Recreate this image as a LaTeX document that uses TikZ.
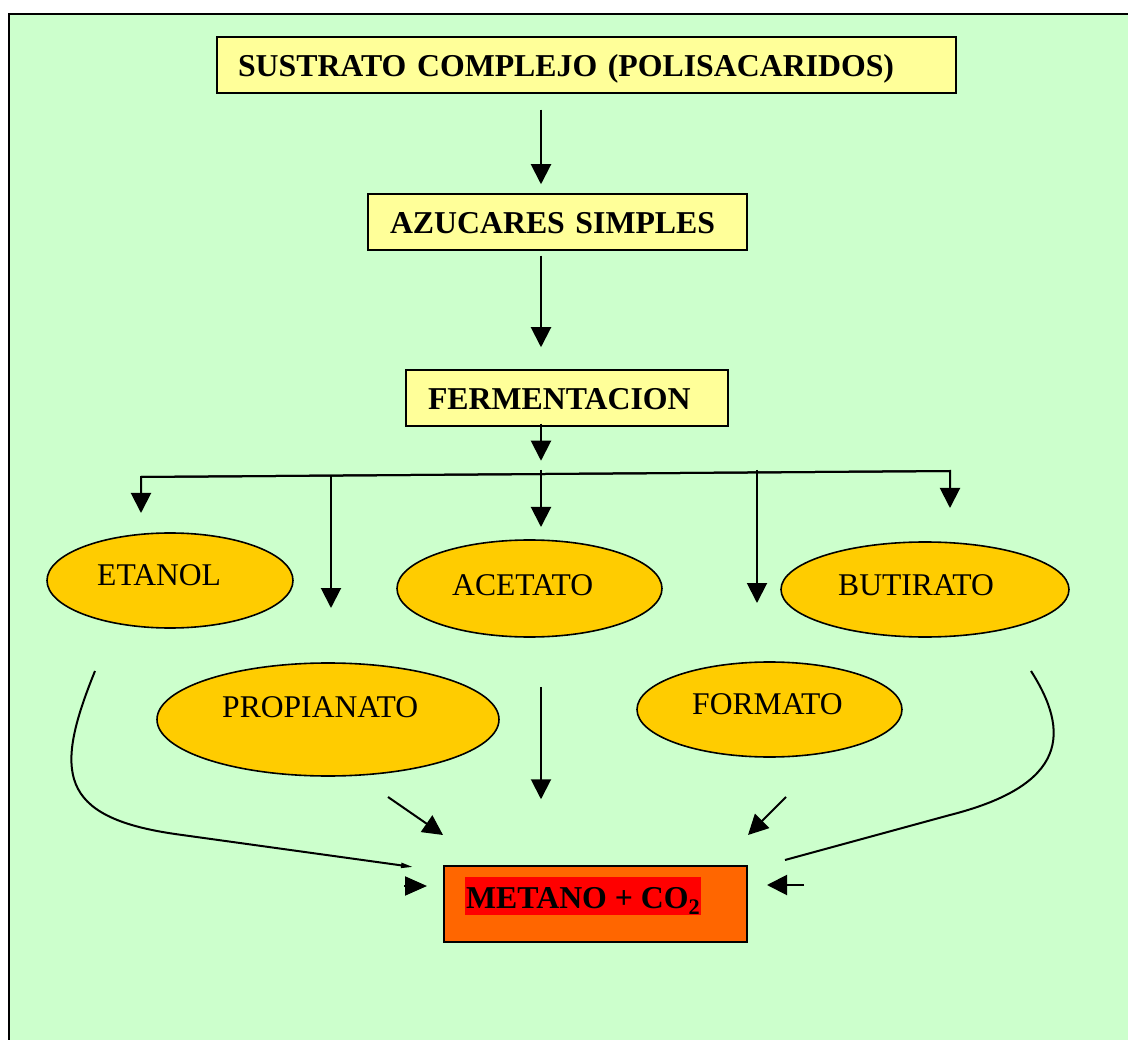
\documentclass[tikz,border=0pt]{standalone}
\usepackage{fontspec}
\setmainfont{Liberation Serif}
\usetikzlibrary{arrows.meta,shapes.geometric,calc}
\definecolor{bg}{HTML}{CCFFCC}
\definecolor{boxyellow}{HTML}{FFFF99}
\definecolor{ovalorange}{HTML}{FFCC00}
\definecolor{metorange}{HTML}{FF6600}
\definecolor{hlred}{HTML}{FF0000}
\begin{document}
\begin{tikzpicture}[x=1pt,y=-1pt,
  txt/.style={font=\fontsize{31.6}{36}\selectfont},
  btxt/.style={font=\bfseries\fontsize{31.8}{36}\selectfont},
  ybox/.style={btxt, draw=black, line width=1.5pt, fill=boxyellow, minimum height=56pt,
    text height=24pt, text depth=0pt, align=left, inner ysep=0pt},
  oval/.style={ellipse, draw=black, line width=1.6pt, fill=ovalorange, inner sep=0pt},
  lbl/.style={txt, anchor=base west, inner sep=0pt},
  arr/.style={line width=2pt, -{Triangle[length=20pt,width=20pt]}},
  smallarr/.style={line width=2pt, -{Triangle[length=12pt,width=5pt]}}]
\useasboundingbox (0,0) rectangle (1128,1040);
\fill[white] (0,0) rectangle (1128,1040);
\draw[line width=2.5pt, fill=bg] (9,14) rectangle (1150,1060);

% boxes
\node[ybox, inner xsep=21pt, text width=697pt] (sustrato) at (586.5,65) {SUSTRATO COMPLEJO (POLISACARIDOS)};
\node[ybox, inner xsep=22pt, text width=335pt] (azucares) at (557.5,222) {AZUCARES SIMPLES};
\node[ybox, inner xsep=22pt, text width=278pt] (ferment) at (567,398) {FERMENTACION};

% ovals
\node[oval, minimum width=246pt, minimum height=95pt] (etanol) at (170,580.5) {};
\node[lbl] (etanolT) at (97,585) {ETANOL};
\node[oval, minimum width=265pt, minimum height=97pt] (acetato) at (529.5,588.5) {};
\node[lbl] (acetatoT) at (452,595) {ACETATO};
\node[oval, minimum width=288pt, minimum height=95pt] (butirato) at (925,589.5) {};
\node[lbl] (butiratoT) at (838,595) {BUTIRATO};
\node[oval, minimum width=342pt, minimum height=113pt] (propianato) at (328,719.5) {};
\node[lbl] (propianatoT) at (222,717) {PROPIANATO};
\node[oval, minimum width=265pt, minimum height=95pt] (formato) at (769.5,709.5) {};
\node[lbl] (formatoT) at (692,714) {FORMATO};

% final box
\node[draw=black, line width=1.5pt, fill=metorange, minimum width=303pt, minimum height=76pt, inner sep=0pt] (metano) at (595.5,904) {};
\node[btxt, fill=hlred, anchor=base west, inner xsep=1pt, inner ysep=0pt, text height=31pt, text depth=7pt] (metanoT) at (465,908) {METANO + CO\textsubscript{2}};

% main axis arrows
\coordinate (axis) at (541,0);
\draw[arr] ($(sustrato.south -| axis)+(0,16)$) -- ($(azucares.north -| axis)+(0,-9)$);
\draw[arr] ($(azucares.south -| axis)+(0,5)$) -- ($(ferment.north -| axis)+(0,-22)$);
\draw[arr] ($(ferment.south -| axis)+(0,-3)$) -- ($(ferment.south -| axis)+(0,34)$);

% fork
\coordinate (fL) at (141,477);
\coordinate (fR) at (950,471);
\coordinate (tE) at (141,513);
\coordinate (tB) at (950,508);
\coordinate (sP) at (331,476);
\coordinate (tP) at (331,608);
\coordinate (sA) at (541,470);
\coordinate (tA) at (541,527);
\coordinate (sF) at (757,470);
\coordinate (tF) at (757,603);
\draw[arr] (fR) -- (fL) -- (tE);
\draw[arr] (fL) -- (fR) -- (tB);
\draw[arr] (sP) -- (tP);
\draw[arr] (sA) -- (tA);
\draw[arr] (sF) -- (tF);

% arrows to metano
\draw[arr] ($(acetato.south -| axis)+(0,49)$) -- ($(metano.north -| axis)+(0,-66)$);
\coordinate (pS) at (388,797);
\coordinate (pE) at (443,835);
\draw[arr] (pS) -- (pE);
\coordinate (fS) at (786,797);
\coordinate (fE) at (748,835);
\draw[arr] (fS) -- (fE);

\coordinate (lS) at (95,671);
\coordinate (lE) at (413,867);
\draw[smallarr] (lS) .. controls (54,772) and (58,817) .. (175,834) -- (lE);
\coordinate (rS) at (1031,671);
\coordinate (rE) at (785,860);
\draw[line width=2pt] (rS) .. controls (1070,732) and (1068,785) .. (950,815) -- (rE);

\coordinate (laS) at (404,886);
\coordinate (laE) at (427,886);
\draw[line width=2pt, -{Triangle[length=22pt,width=19pt]}] (laS) -- (laE);
\coordinate (raS) at (804,885);
\coordinate (raE) at (767,885);
\draw[arr] (raS) -- (raE);
\end{tikzpicture}
\end{document}
